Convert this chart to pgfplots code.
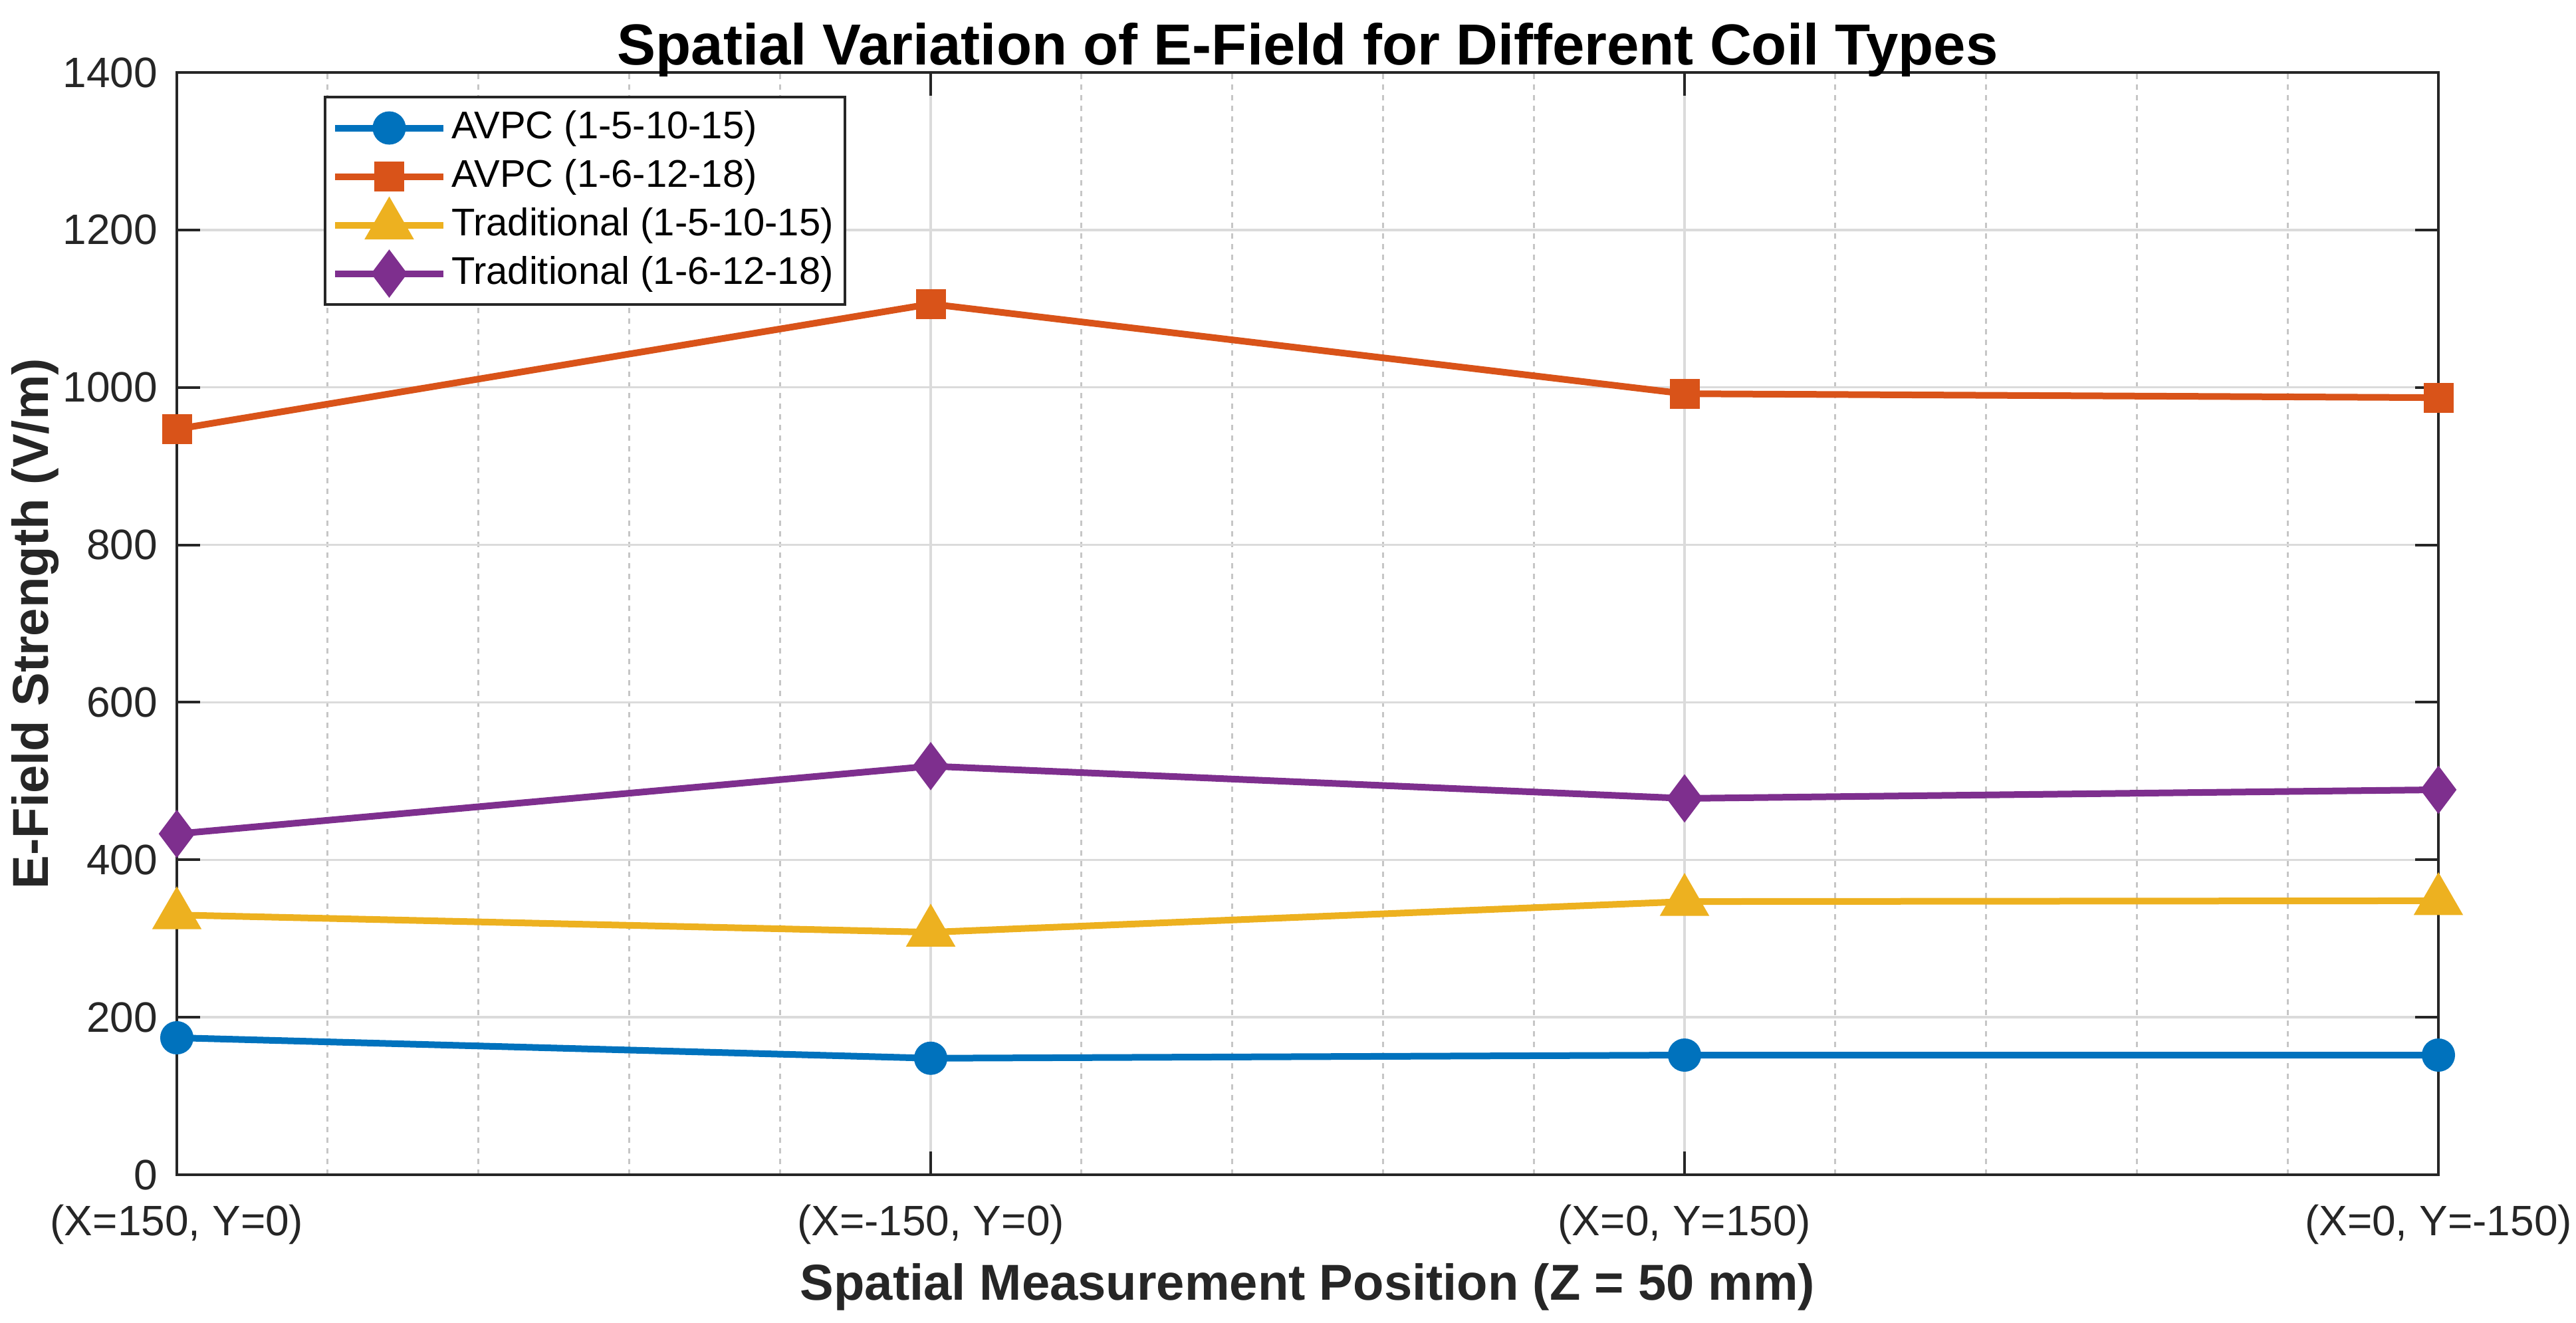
\documentclass[border=0pt]{standalone}
\usepackage{fontspec}
\setmainfont{Liberation Sans}
\usepackage{pgfplots}
\pgfplotsset{compat=1.18}
\definecolor{mblue}{rgb}{0,0.447,0.741}
\definecolor{morange}{rgb}{0.851,0.325,0.098}
\definecolor{myellow}{rgb}{0.929,0.694,0.125}
\definecolor{mpurple}{rgb}{0.494,0.184,0.556}
\definecolor{axgray}{rgb}{0.15,0.15,0.15}
\begin{document}
\begin{tikzpicture}
\useasboundingbox (-26.6pt,-22.2pt) rectangle (360.9pt,176.7pt);
\begin{axis}[
  at={(0,0)}, anchor=south west,
  scale only axis,
  width=340.2pt, height=165.8pt,
  xmin=0, xmax=3, ymin=0, ymax=1400,
  xtick={0,1,2,3},
  xticklabels={{(X=150, Y=0)},{(X=-150, Y=0)},{(X=0, Y=150)},{(X=0, Y=-150)}},
  ytick={0,200,...,1400},
  minor x tick num=4,
  minor tick length=0pt,
  major tick length=3.5pt,
  tick style={axgray, line width=0.4pt},
  axis line style={axgray, line width=0.45pt},
  grid=both,
  major grid style={gray!28, line width=0.35pt},
  minor y grid style={draw=none},
  minor x grid style={gray!45, line width=0.3pt, dash pattern=on 0.8pt off 0.8pt},
  /pgf/number format/assume math mode=true,
  /pgf/number format/1000 sep={},
  ticklabel style={font=\fontsize{6.4}{7.5}\selectfont, text=axgray},
  xticklabel style={anchor=base, inner sep=0pt, yshift=-9.1pt},
  yticklabel style={anchor=east, inner sep=0pt, xshift=-2.7pt},
  title={Spatial Variation of E-Field for Different Coil Types},
  title style={font=\fontsize{8.7}{10}\selectfont\bfseries, at={(rel axis cs:0.5,1)}, anchor=base, inner sep=0pt, yshift=-4.8pt},
  xlabel={Spatial Measurement Position (Z = 50 mm)},
  xlabel style={font=\fontsize{7.6}{9}\selectfont\bfseries, text=axgray, at={(rel axis cs:0.5,0)}, anchor=base, inner sep=0pt, yshift=-18.8pt},
  ylabel={E-Field Strength (V/m)},
  ylabel style={font=\fontsize{7.6}{9}\selectfont\bfseries, text=axgray, at={(rel axis cs:0,0.5)}, anchor=north, inner sep=0pt, yshift=25.1pt},
  legend style={at={(rel axis cs:0,1)}, anchor=north west, xshift=22.1pt, yshift=-3.5pt,
    font=\fontsize{5.8}{7}\selectfont, draw=axgray, line width=0.4pt,
    inner xsep=1pt, inner ysep=1pt, row sep=0pt,
    nodes={text height=4.4pt, text depth=1.2pt, inner ysep=0.85pt, inner xsep=0.7pt},
    cells={anchor=west}},
  legend image code/.code={\draw[mark repeat=2, mark phase=2, #1] plot coordinates {(0pt,0pt) (8.15pt,0pt) (16.3pt,0pt)};},
  every axis plot/.append style={line width=1pt},
]
\addplot[mblue, mark=*, mark size=2pt, mark options={solid}] coordinates {(0,174) (1,148) (2,152) (3,152)};
\addlegendentry{AVPC (1-5-10-15)}
\addplot[morange, mark=square*, mark size=1.75pt, mark options={solid}] coordinates {(0,947) (1,1106) (2,992) (3,987)};
\addlegendentry{AVPC (1-6-12-18)}
\addplot[myellow, mark=triangle*, mark size=3.3pt, mark options={solid}] coordinates {(0,330) (1,308) (2,347) (3,348)};
\addlegendentry{Traditional (1-5-10-15)}
\addplot[mpurple, mark=diamond*, mark size=2.8pt, mark options={solid}] coordinates {(0,433) (1,519) (2,478) (3,489)};
\addlegendentry{Traditional (1-6-12-18)}
\end{axis}
\end{tikzpicture}
\end{document}
